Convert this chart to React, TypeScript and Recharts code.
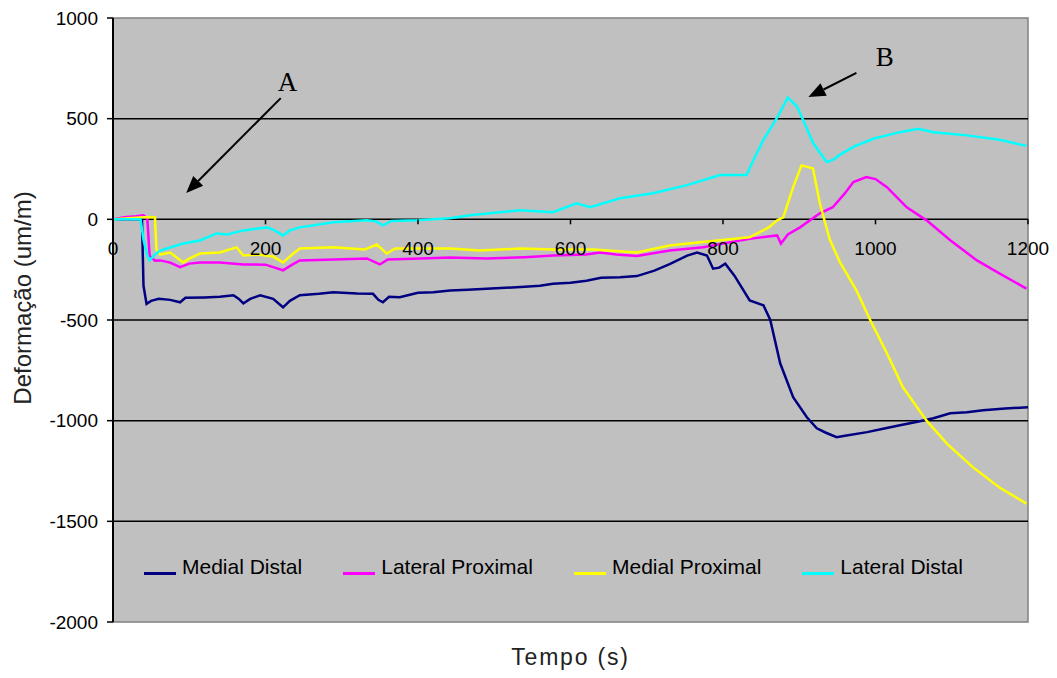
import React from 'react';
import {
  LineChart,
  Line,
  XAxis,
  YAxis,
  CartesianGrid,
  ReferenceLine,
  ReferenceArea,
  ReferenceDot,
  Legend,
} from 'recharts';

// ---------- data ----------
const xTicks = [0, 200, 400, 600, 800, 1000, 1200];
const yTicks = [1000, 500, 0, -500, -1000, -1500, -2000];
const gridValues = [500, 0, -500, -1000, -1500];

const seriesNames = ['Medial Distal', 'Lateral Proximal', 'Medial Proximal', 'Lateral Distal'];
const seriesColors = ['#000080', '#FF00FF', '#FFFF00', '#00FFFF'];

const medialDistalTime = [0, 20, 38, 40, 44, 50, 60, 75, 88, 95, 120, 140, 158, 165, 171, 180, 193, 210, 223, 232, 245, 270, 289, 320, 341, 348, 354, 362, 376, 400, 420, 442, 465, 490, 515, 540, 560, 577, 600, 621, 640, 665, 687, 710, 730, 753, 766, 779, 787, 795, 803, 815, 835, 853, 862, 875, 892, 910, 923, 935, 949, 960, 989, 1010, 1032, 1055, 1076, 1098, 1120, 1141, 1170, 1200];
const medialDistalValue = [0, 0, 0, -330, -420, -405, -395, -400, -412, -390, -388, -385, -377, -395, -417, -395, -377, -395, -437, -405, -377, -370, -362, -368, -370, -400, -412, -385, -387, -365, -362, -353, -350, -345, -340, -335, -330, -320, -315, -305, -290, -288, -282, -255, -222, -180, -165, -180, -245, -240, -220, -280, -403, -427, -500, -715, -883, -983, -1038, -1060, -1082, -1075, -1057, -1040, -1023, -1005, -988, -963, -958, -948, -940, -933];

const lateralProximalTime = [0, 15, 30, 40, 45, 48, 55, 62, 75, 88, 100, 114, 140, 171, 200, 212, 223, 235, 245, 290, 333, 345, 350, 360, 403, 442, 490, 540, 577, 620, 639, 660, 687, 730, 774, 800, 835, 871, 876, 885, 901, 927, 944, 960, 971, 988, 1000, 1015, 1041, 1067, 1098, 1133, 1163, 1198];
const lateralProximalValue = [0, 10, 15, 20, 5, -180, -205, -204, -215, -238, -220, -214, -215, -224, -225, -240, -253, -225, -204, -200, -194, -215, -224, -200, -195, -189, -195, -188, -180, -175, -165, -175, -182, -155, -139, -120, -97, -80, -120, -75, -40, 30, 60, 130, 185, 210, 200, 160, 60, -5, -104, -204, -270, -344];

const medialProximalTime = [0, 20, 40, 55, 57, 62, 75, 92, 100, 114, 140, 162, 171, 190, 210, 223, 235, 245, 289, 330, 346, 359, 370, 403, 442, 481, 534, 577, 630, 687, 730, 770, 796, 835, 860, 871, 879, 892, 903, 918, 927, 940, 953, 975, 993, 1015, 1036, 1067, 1094, 1128, 1163, 1198];
const medialProximalValue = [0, 5, 10, 10, -150, -175, -165, -214, -195, -170, -165, -139, -180, -175, -185, -214, -175, -145, -139, -150, -125, -170, -145, -145, -145, -155, -145, -150, -150, -165, -130, -114, -104, -89, -40, -5, 10, 160, 268, 253, 80, -100, -210, -353, -500, -665, -834, -1000, -1115, -1232, -1333, -1412];

const lateralDistalTime = [0, 20, 36, 40, 45, 48, 55, 62, 75, 92, 114, 136, 150, 171, 202, 212, 223, 232, 245, 289, 333, 345, 354, 365, 398, 442, 468, 534, 577, 608, 626, 665, 708, 753, 796, 831, 840, 853, 871, 885, 897, 905, 918, 936, 944, 953, 971, 997, 1032, 1056, 1076, 1120, 1163, 1198];
const lateralDistalValue = [0, 0, 0, -100, -180, -204, -175, -155, -140, -120, -105, -70, -75, -55, -40, -55, -80, -55, -40, -15, -5, -10, -30, -8, -5, 5, 20, 45, 35, 80, 60, 105, 130, 170, 220, 220, 295, 395, 505, 605, 560, 495, 380, 285, 295, 320, 360, 400, 433, 450, 433, 417, 395, 365];

// annotations (in data units)
const annotationLabels = [
  { text: 'A', x: 229, y: 682 },
  { text: 'B', x: 1012, y: 806 },
];
const annotationArrows = [
  { x1: 220, y1: 602, x2: 96, y2: 131 },
  { x1: 975, y1: 727, x2: 912, y2: 607 },
];

const zip = (ts: number[], vs: number[]) => ts.map((t, i) => ({ t, v: vs[i] }));
const seriesData = [
  zip(medialDistalTime, medialDistalValue),
  zip(lateralProximalTime, lateralProximalValue),
  zip(medialProximalTime, medialProximalValue),
  zip(lateralDistalTime, lateralDistalValue),
];

// ---------- layout ----------
const W = 1057;
const H = 678;
const M = { top: 18, right: 29, bottom: 0, left: 0 };
const Y_AXIS_W = 113;
const X_AXIS_H = 56;
const PLOT_H = H - M.top - M.bottom - X_AXIS_H;
const Y_MAX = 1000;
const Y_MIN = -2000;
const ZERO_Y = M.top + (PLOT_H * (Y_MAX - 0)) / (Y_MAX - Y_MIN);

const SANS = '"Liberation Sans", Arial, sans-serif';
const SERIF = '"Liberation Serif", "Times New Roman", serif';

const XTick = (props: any) => {
  const { x, payload } = props;
  return (
    <g>
      <line x1={x} x2={x} y1={ZERO_Y} y2={ZERO_Y + 5} stroke="#000" strokeWidth={1.5} />
      <text x={x} y={ZERO_Y + 36} textAnchor="middle" fontFamily={SANS} fontSize={19} fill="#000">
        {payload.value}
      </text>
    </g>
  );
};

const YLabel = (props: any) => {
  const vb = props.viewBox || { x: 0, y: M.top };
  const cx = vb.x + 31;
  const cy = vb.y + 280;
  return (
    <text
      x={cx}
      y={cy}
      textAnchor="middle"
      transform={`rotate(-90, ${cx}, ${cy})`}
      fontFamily={SANS}
      fontSize={24}
      fill="#222"
    >
      Deformação (um/m)
    </text>
  );
};

const XLabel = (props: any) => {
  const vb = props.viewBox || { x: Y_AXIS_W, y: H - X_AXIS_H, width: 915 };
  return (
    <text
      x={vb.x + vb.width / 2}
      y={vb.y + 43}
      textAnchor="middle"
      fontFamily={SANS}
      fontSize={23}
      letterSpacing={1.8}
      fill="#222"
    >
      Tempo (s)
    </text>
  );
};

const arrowShape = (p: any) => {
  const { x1, y1, x2, y2 } = p;
  const ang = Math.atan2(y2 - y1, x2 - x1);
  const L = 17;
  const Wd = 7;
  const bx = x2 - L * Math.cos(ang);
  const by = y2 - L * Math.sin(ang);
  const px = -Math.sin(ang);
  const py = Math.cos(ang);
  const pts = `${x2},${y2} ${bx + Wd * px},${by + Wd * py} ${bx - Wd * px},${by - Wd * py}`;
  return (
    <g>
      <line x1={x1} y1={y1} x2={bx} y2={by} stroke="#000" strokeWidth={2} />
      <polygon points={pts} fill="#000" />
    </g>
  );
};

const makeLabelShape = (text: string) => (p: any) => (
  <text x={p.cx} y={p.cy} dy={9} textAnchor="middle" fontFamily={SERIF} fontSize={27} fill="#000">
    {text}
  </text>
);

const renderLegend = (props: any) => {
  const payload = [...(props.payload || [])].sort(
    (a: any, b: any) => seriesNames.indexOf(a.value) - seriesNames.indexOf(b.value)
  );
  return (
    <div style={{ display: 'flex', flexDirection: 'row', alignItems: 'center', whiteSpace: 'nowrap' }}>
      {payload.map((entry: any, i: number) => (
        <div key={i} style={{ display: 'flex', alignItems: 'center', marginRight: 41 }}>
          <div
            style={{
              width: 32,
              height: 3,
              background: entry.color,
              position: 'relative',
              top: 6,
              marginRight: 6,
            }}
          />
          <span style={{ fontFamily: SANS, fontSize: 21, color: '#000', lineHeight: '22px' }}>{entry.value}</span>
        </div>
      ))}
    </div>
  );
};

export default function App() {
  return (
    <div style={{ position: 'absolute', left: 0, top: 0, width: W, height: H }}>
      <LineChart width={W} height={H} margin={M}>
        <CartesianGrid fill="#C0C0C0" horizontal={false} vertical={false} />
        <ReferenceArea
          x1={0}
          x2={1200}
          y1={Y_MIN}
          y2={Y_MAX}
          fill="none"
          stroke="#808080"
          strokeWidth={1.5}
        />
        {gridValues.map((v) => (
          <ReferenceLine key={v} y={v} stroke="#000" strokeWidth={1.5} />
        ))}
        <XAxis
          dataKey="t"
          type="number"
          domain={[0, 1200]}
          ticks={xTicks}
          axisLine={false}
          tickLine={false}
          tick={<XTick />}
          height={X_AXIS_H}
          interval={0}
          allowDuplicatedCategory={false}
          label={<XLabel />}
        />
        <YAxis
          type="number"
          domain={[Y_MIN, Y_MAX]}
          ticks={yTicks}
          width={Y_AXIS_W}
          interval={0}
          axisLine={{ stroke: '#000', strokeWidth: 2 }}
          tickLine={{ stroke: '#000', strokeWidth: 1.5 }}
          tickSize={6}
          tickMargin={9}
          tick={{ fontFamily: SANS, fontSize: 19, fill: '#000' }}
          label={<YLabel />}
        />
        {seriesData.map((d, i) => (
          <Line
            key={seriesNames[i]}
            data={d}
            dataKey="v"
            name={seriesNames[i]}
            stroke={seriesColors[i]}
            strokeWidth={2.5}
            dot={false}
            activeDot={false}
            type="linear"
            isAnimationActive={false}
          />
        ))}
        {annotationArrows.map((a, i) => (
          <ReferenceLine
            key={'arrow' + i}
            segment={[
              { x: a.x1, y: a.y1 },
              { x: a.x2, y: a.y2 },
            ]}
            shape={arrowShape}
          />
        ))}
        {annotationLabels.map((l) => (
          <ReferenceDot key={l.text} x={l.x} y={l.y} r={0} shape={makeLabelShape(l.text)} />
        ))}
        <Legend
          layout="horizontal"
          verticalAlign="middle"
          align="center"
          content={renderLegend}
          wrapperStyle={{ left: 144, top: 556, width: 'auto', height: 'auto' }}
        />
      </LineChart>
    </div>
  );
}
